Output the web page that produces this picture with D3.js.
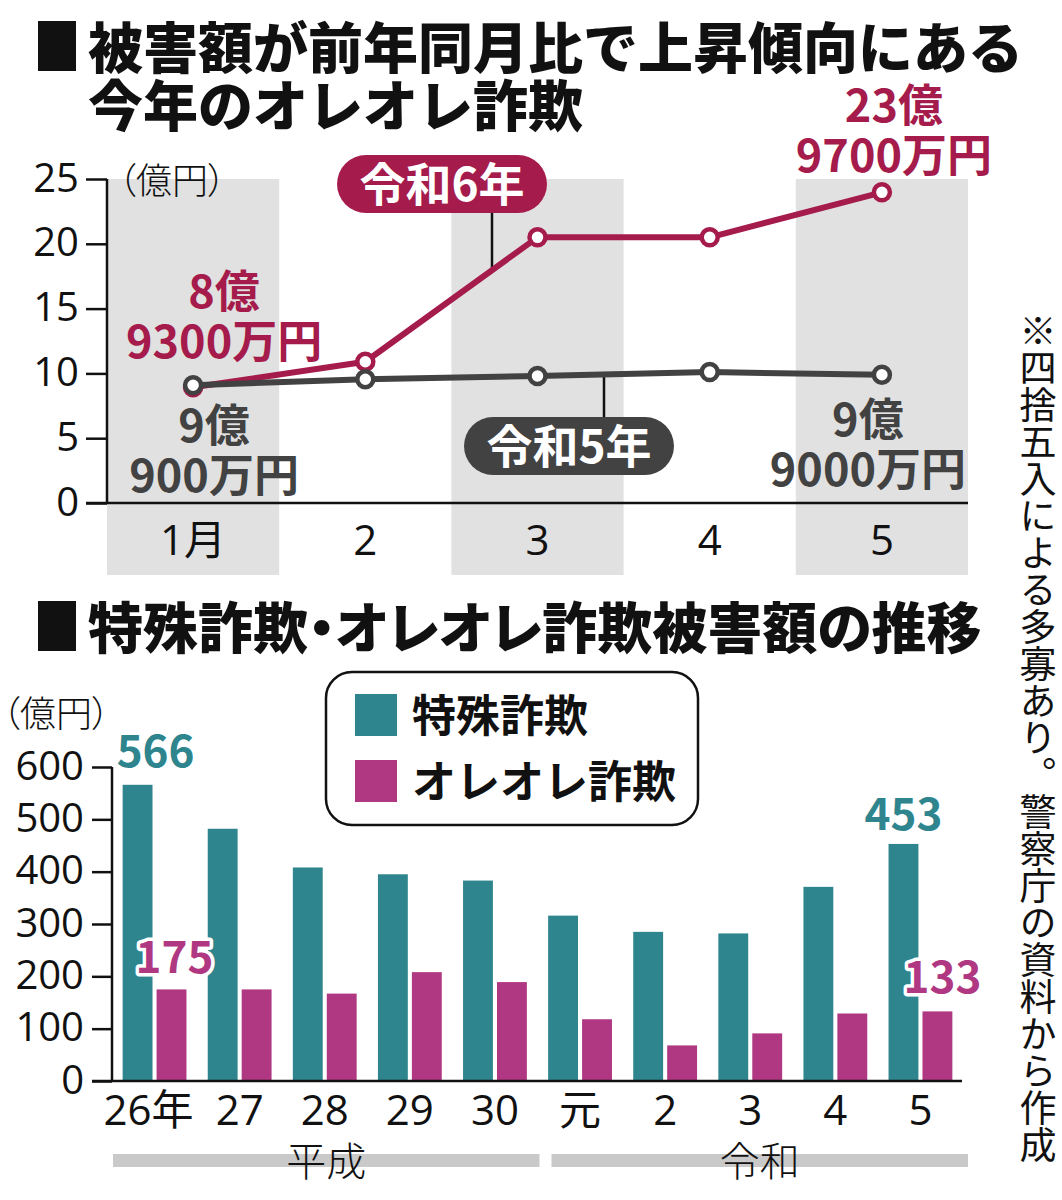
<!DOCTYPE html>
<html>
<head>
<meta charset="utf-8">
<script src="https://cdn.jsdelivr.net/npm/d3@7.9.0/dist/d3.min.js"></script>
<style>
  body { margin: 0; background: #fff; }
  svg { display: block; font-family: 'Noto Sans CJK JP', sans-serif; }
  .palt { font-feature-settings: 'palt'; }
  .num { font-family: 'Open Sans', 'Noto Sans CJK JP', sans-serif; }
</style>
</head>
<body>
<div id="chart"></div>
<script>
// Top chart data: monthly オレオレ詐欺 losses (億円)
const months = ['1月', '2', '3', '4', '5'];
const reiwa6 = [8.93, 10.9, 20.5, 20.5, 23.97];
const reiwa5 = [9.09, 9.55, 9.8, 10.1, 9.9];
const lineTicks = [0, 5, 10, 15, 20, 25];

// Bottom chart data: yearly losses (億円)
const years = ['26年', '27', '28', '29', '30', '元', '2', '3', '4', '5'];
const tokushu = [566, 482, 408, 395, 383, 316, 285, 282, 371, 453];
const oreore = [175, 175, 167, 208, 189, 118, 68, 91, 129, 133];
const barTicks = [0, 100, 200, 300, 400, 500, 600];
const seriesNames = ['特殊詐欺', 'オレオレ詐欺'];

const RED = '#a51b4b';
const DARK = '#424242';
const TEAL = '#2f858e';
const MAGENTA = '#b03882';

const W = 1062, H = 1200;
const svg = d3.select('#chart').append('svg')
  .attr('width', W).attr('height', H).attr('viewBox', `0 0 ${W} ${H}`);

// ---------- titles ----------
function title(lines, top, cls) {
  svg.append('rect').attr('x', 38).attr('y', top).attr('width', 38).attr('height', 50).attr('fill', '#111');
  lines.forEach((t, i) => {
    svg.append('text').attr('class', cls || null)
      .attr('x', 88).attr('y', top + 47 + i * 58)
      .attr('font-size', 55).attr('font-weight', 900).attr('fill', '#111')
      .text(t);
  });
}
title(['被害額が前年同月比で上昇傾向にある', '今年のオレオレ詐欺'], 21);

// ---------- top line chart ----------
const x = d3.scaleBand().domain(months).range([107, 968]);
const y = d3.scaleLinear().domain([0, 25]).range([503, 179]);
const xc = (m) => x(m) + x.bandwidth() / 2;

// alternating gray bands
svg.append('g').selectAll('rect')
  .data(months.filter((d, i) => i % 2 === 0))
  .join('rect')
  .attr('x', (d) => x(d)).attr('width', x.bandwidth())
  .attr('y', y(25)).attr('height', 575 - y(25))
  .attr('fill', '#e1e1e1');

const yAxis = svg.append('g')
  .attr('transform', `translate(107,0)`)
  .call(d3.axisLeft(y).tickValues(lineTicks).tickSize(21).tickPadding(7));
yAxis.select('.domain').remove();
yAxis.selectAll('.tick line').attr('stroke', '#111').attr('stroke-width', 2.5);
yAxis.selectAll('.tick text').attr('class', 'num')
  .attr('font-size', 40).attr('fill', '#111').attr('font-family', null).attr('dy', '0.3em');

svg.append('line').attr('x1', 107).attr('x2', 107).attr('y1', y(25)).attr('y2', y(0))
  .attr('stroke', '#111').attr('stroke-width', 2.5);
svg.append('line').attr('x1', 86).attr('x2', 968).attr('y1', y(0)).attr('y2', y(0))
  .attr('stroke', '#111').attr('stroke-width', 2.5);

svg.append('text').attr('class', 'palt')
  .attr('x', 118).attr('y', 194).attr('font-size', 36).attr('font-weight', 300).attr('fill', '#111')
  .text('（億円）');

svg.append('g').selectAll('text')
  .data(months).join('text').attr('class', 'num')
  .attr('x', (d) => xc(d)).attr('y', 555)
  .attr('text-anchor', 'middle').attr('font-size', 42).attr('fill', '#111')
  .text((d) => d);

// leader lines for the series pills
svg.append('line').attr('x1', 492).attr('x2', 492).attr('y1', 213)
  .attr('y2', y(d3.interpolate(reiwa6[1], reiwa6[2])((492 - xc(months[1])) / x.step())))
  .attr('stroke', '#111').attr('stroke-width', 2.5);
svg.append('line').attr('x1', 604).attr('x2', 604).attr('y1', 417)
  .attr('y2', y(d3.interpolate(reiwa5[2], reiwa5[3])((604 - xc(months[2])) / x.step())))
  .attr('stroke', '#111').attr('stroke-width', 2.5);

const line = d3.line().x((d, i) => xc(months[i])).y((d) => y(d));

function drawSeries(values, color) {
  svg.append('path').datum(values)
    .attr('d', line).attr('fill', 'none')
    .attr('stroke', color).attr('stroke-width', 6).attr('stroke-linejoin', 'round');
  svg.append('g').selectAll('circle')
    .data(values).join('circle')
    .attr('cx', (d, i) => xc(months[i])).attr('cy', (d) => y(d))
    .attr('r', 8).attr('fill', '#fff')
    .attr('stroke', color).attr('stroke-width', 4.5);
}
drawSeries(reiwa6, RED);
drawSeries(reiwa5, DARK);

// series pills
function pill(px, py, label, color) {
  svg.append('rect').attr('x', px).attr('y', py).attr('width', 210).attr('height', 58)
    .attr('rx', 29).attr('fill', color);
  svg.append('text').attr('x', px + 105).attr('y', py + 46)
    .attr('text-anchor', 'middle').attr('font-size', 46).attr('font-weight', 700).attr('fill', '#fff')
    .text(label);
}
pill(337, 155, '令和6年', RED);
pill(464, 417, '令和5年', DARK);

// value callouts
const callouts = [
  { i: 0, v: reiwa6[0], lines: ['8億', '9300万円'], dx: 31, dy: -79, color: RED },
  { i: 0, v: reiwa5[0], lines: ['9億', '900万円'], dx: 21, dy: 57, color: DARK },
  { i: 4, v: reiwa6[4], lines: ['23億', '9700万円'], dx: 12, dy: -70, color: RED },
  { i: 4, v: reiwa5[4], lines: ['9億', '9000万円'], dx: -14, dy: 61, color: DARK },
];
callouts.forEach((c) => {
  const t = svg.append('text')
    .attr('text-anchor', 'middle').attr('font-size', 45).attr('font-weight', 700).attr('fill', c.color);
  c.lines.forEach((s, k) => {
    t.append('tspan').attr('x', xc(months[c.i]) + c.dx)
      .attr('y', y(c.v) + c.dy + k * 50).text(s);
  });
});

// ---------- bottom bar chart ----------
title(['特殊詐欺・オレオレ詐欺被害額の推移'], 601, 'palt');

const x0 = d3.scaleBand().domain(years).range([112, 963]).paddingInner(0.25).paddingOuter(0.125);
const x1 = d3.scaleBand().domain(seriesNames).range([0, x0.bandwidth()]).paddingInner(0.12);
const y2 = d3.scaleLinear().domain([0, 600]).range([1081, 767]);
const colors = d3.scaleOrdinal().domain(seriesNames).range([TEAL, MAGENTA]);

const rows = years.map((yr, i) => ({ yr, values: [tokushu[i], oreore[i]] }));

svg.append('g').selectAll('g')
  .data(rows).join('g')
  .attr('transform', (d) => `translate(${x0(d.yr)},0)`)
  .selectAll('rect')
  .data((d) => d.values.map((v, k) => ({ key: seriesNames[k], v })))
  .join('rect')
  .attr('x', (d) => x1(d.key)).attr('width', x1.bandwidth())
  .attr('y', (d) => y2(d.v)).attr('height', (d) => y2(0) - y2(d.v))
  .attr('fill', (d) => colors(d.key));

const y2Axis = svg.append('g')
  .attr('transform', `translate(112,0)`)
  .call(d3.axisLeft(y2).tickValues(barTicks).tickSize(20).tickPadding(8));
y2Axis.select('.domain').remove();
y2Axis.selectAll('.tick line').attr('stroke', '#111').attr('stroke-width', 2.5);
y2Axis.selectAll('.tick text').attr('class', 'num')
  .attr('font-size', 40).attr('fill', '#111').attr('font-family', null).attr('dy', '0.3em');

svg.append('line').attr('x1', 112).attr('x2', 112).attr('y1', y2(600)).attr('y2', y2(0))
  .attr('stroke', '#111').attr('stroke-width', 2.5);
svg.append('line').attr('x1', 92).attr('x2', 962).attr('y1', y2(0)).attr('y2', y2(0))
  .attr('stroke', '#111').attr('stroke-width', 2.5);

svg.append('text').attr('class', 'palt')
  .attr('x', 2).attr('y', 727).attr('font-size', 36).attr('font-weight', 300).attr('fill', '#111')
  .text('（億円）');

svg.append('g').selectAll('text')
  .data(years).join('text').attr('class', 'num')
  .attr('x', (d) => x0(d) + x0.bandwidth() / 2 - (d === '26年' ? 6 : 0))
  .attr('y', 1125)
  .attr('text-anchor', 'middle').attr('font-size', 42).attr('fill', '#111')
  .text((d) => d);

// era strips
const eras = [
  { name: '平成', from: '26年', to: '30', inset: 1 },
  { name: '令和', from: '元', to: '5', inset: 14 },
];
eras.forEach((e) => {
  const a = x0(e.from) - x0.step() * x0.paddingOuter() + e.inset;
  const b = x0(e.to) + x0.bandwidth() + x0.step() * x0.paddingOuter() + (e.inset > 5 ? 5 : 2);
  svg.append('rect').attr('x', a).attr('y', 1154).attr('width', b - a).attr('height', 13).attr('fill', '#c9c9c9');
  svg.append('text').attr('x', (a + b) / 2).attr('y', 1176)
    .attr('text-anchor', 'middle').attr('font-size', 40).attr('font-weight', 300).attr('fill', '#111')
    .text(e.name);
});

// bar value labels
const barLabels = [
  { i: 0, k: 0, dx: 18, dy: -18 },
  { i: 0, k: 1, dx: 3, dy: -16 },
  { i: 9, k: 0, dx: 0, dy: -14 },
  { i: 9, k: 1, dx: 5, dy: -18 },
];
barLabels.forEach((b) => {
  const v = [tokushu, oreore][b.k][b.i];
  const cx = x0(years[b.i]) + x1(seriesNames[b.k]) + x1.bandwidth() / 2 + b.dx;
  const t = svg.append('text')
    .attr('x', cx).attr('y', y2(v) + b.dy)
    .attr('text-anchor', 'middle').attr('font-size', 44).attr('font-weight', 700)
    .attr('fill', colors(seriesNames[b.k]))
    .text(v);
  if (b.k === 1) {
    t.attr('stroke', '#fff').attr('stroke-width', 7).attr('paint-order', 'stroke').attr('stroke-linejoin', 'round');
  }
});

// legend
const lg = svg.append('g');
lg.append('rect').attr('x', 326).attr('y', 672).attr('width', 372).attr('height', 153)
  .attr('rx', 26).attr('fill', '#fff').attr('stroke', '#111').attr('stroke-width', 2.5);
seriesNames.forEach((s, k) => {
  lg.append('rect').attr('x', 355).attr('y', 694 + k * 66).attr('width', 42).attr('height', 42).attr('fill', colors(s));
  lg.append('text').attr('x', 412).attr('y', 732 + k * 66)
    .attr('font-size', 44).attr('font-weight', 700).attr('fill', '#111').text(s);
});

// vertical note
svg.append('text')
  .attr('x', 1038).attr('y', 312)
  .style('writing-mode', 'vertical-rl')
  .attr('font-size', 37).attr('fill', '#111')
  .text('※四捨五入による多寡あり。警察庁の資料から作成');
</script>
</body>
</html>
